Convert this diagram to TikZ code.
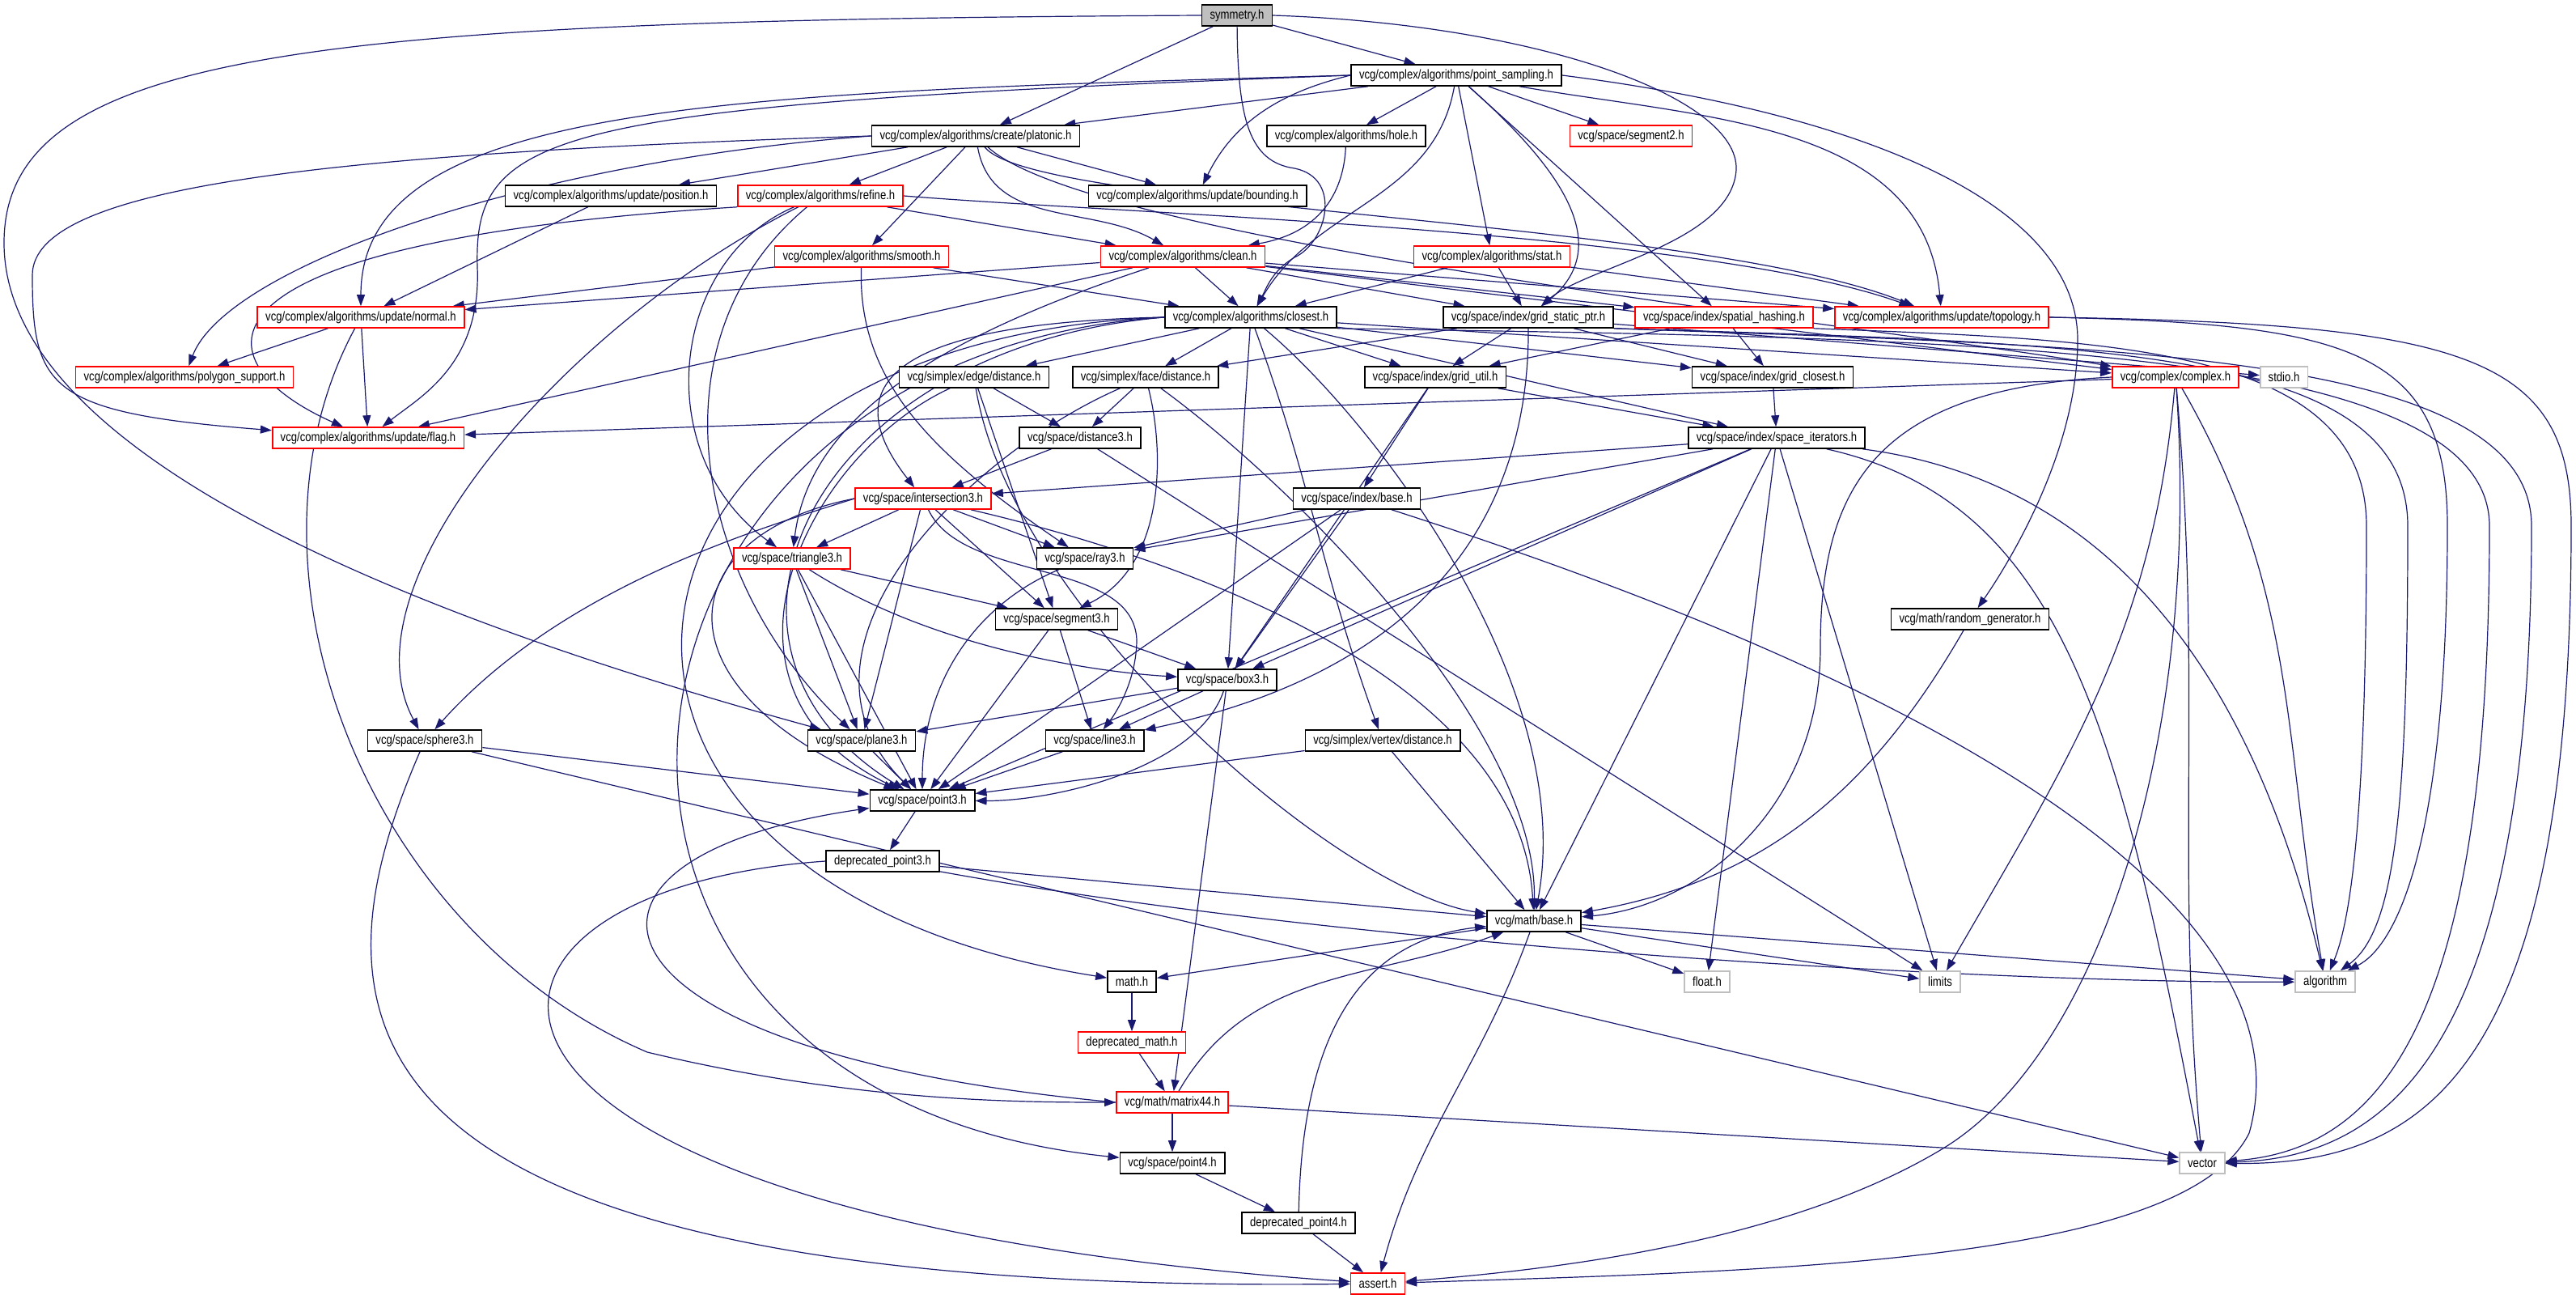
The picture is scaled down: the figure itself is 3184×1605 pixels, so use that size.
\documentclass[tikz,border=0pt]{standalone}
\usepackage{fontspec}
\setmainfont{Liberation Sans}[FakeStretch=0.82]
\usetikzlibrary{arrows.meta,backgrounds}
\definecolor{edgeblue}{RGB}{25,25,112}
\definecolor{sysgrey}{RGB}{191,191,191}

\begin{document}
\begin{tikzpicture}[x=1pt, y=-1pt,
    hdr/.style={draw=black, line width=1.6pt, fill=white, minimum height=26pt,
      inner xsep=10pt, inner ysep=0pt, font=\fontsize{16}{18}\selectfont},
    redhdr/.style={hdr, draw=red},
    syshdr/.style={hdr, draw=sysgrey},
    roothdr/.style={hdr, fill=sysgrey},
    inc/.style={draw=edgeblue, line width=1.2pt, -{Triangle[length=14pt, width=10pt]}}]
   \useasboundingbox (0,0) rectangle (3184,1605);
   \node[roothdr] (sym) at (1529,19) {symmetry.h};
   \node[hdr] (ps) at (1800,93) {vcg/complex/algorithms/point\_sampling.h};
   \node[hdr] (plat) at (1206,168) {vcg/complex/algorithms/create/platonic.h};
   \node[hdr] (hole) at (1664,168) {vcg/complex/algorithms/hole.h};
   \node[redhdr] (seg2) at (2016,168) {vcg/space/segment2.h};
   \node[hdr] (pos) at (755,242) {vcg/complex/algorithms/update/position.h};
   \node[redhdr] (ref) at (1014,242) {vcg/complex/algorithms/refine.h};
   \node[hdr] (bnd) at (1480,242) {vcg/complex/algorithms/update/bounding.h};
   \node[redhdr] (smo) at (1065,317) {vcg/complex/algorithms/smooth.h};
   \node[redhdr] (cln) at (1462,317) {vcg/complex/algorithms/clean.h};
   \node[redhdr] (stat) at (1844,317) {vcg/complex/algorithms/stat.h};
   \node[redhdr] (nrm) at (446,392) {vcg/complex/algorithms/update/normal.h};
   \node[hdr] (clo) at (1546,392) {vcg/complex/algorithms/closest.h};
   \node[hdr] (gsp) at (1889,392) {vcg/space/index/grid\_static\_ptr.h};
   \node[redhdr] (sph) at (2131,392) {vcg/space/index/spatial\_hashing.h};
   \node[redhdr] (top) at (2400,392) {vcg/complex/algorithms/update/topology.h};
   \node[redhdr] (poly) at (228,466) {vcg/complex/algorithms/polygon\_support.h};
   \node[hdr] (edist) at (1204,466) {vcg/simplex/edge/distance.h};
   \node[hdr] (fdist) at (1416,466) {vcg/simplex/face/distance.h};
   \node[hdr] (gutil) at (1774,466) {vcg/space/index/grid\_util.h};
   \node[hdr] (gclo) at (2191,466) {vcg/space/index/grid\_closest.h};
   \node[redhdr] (cpx) at (2689,466) {vcg/complex/complex.h};
   \node[syshdr] (stdio) at (2823,466) {stdio.h};
   \node[redhdr] (flag) at (455,541) {vcg/complex/algorithms/update/flag.h};
   \node[hdr] (d3) at (1335,541) {vcg/space/distance3.h};
   \node[hdr] (sit) at (2196,541) {vcg/space/index/space\_iterators.h};
   \node[redhdr] (int3) at (1141,616) {vcg/space/intersection3.h};
   \node[hdr] (ibase) at (1677,616) {vcg/space/index/base.h};
   \node[redhdr] (tri3) at (979,690) {vcg/space/triangle3.h};
   \node[hdr] (ray3) at (1341,690) {vcg/space/ray3.h};
   \node[hdr] (seg3) at (1306,765) {vcg/space/segment3.h};
   \node[hdr] (rnd) at (2435,765) {vcg/math/random\_generator.h};
   \node[hdr] (box3) at (1517,840) {vcg/space/box3.h};
   \node[hdr] (sph3) at (525,915) {vcg/space/sphere3.h};
   \node[hdr] (pl3) at (1065,915) {vcg/space/plane3.h};
   \node[hdr] (l3) at (1353,915) {vcg/space/line3.h};
   \node[hdr] (vdist) at (1709,915) {vcg/simplex/vertex/distance.h};
   \node[hdr] (p3) at (1140,989) {vcg/space/point3.h};
   \node[hdr] (dp3) at (1091,1064) {deprecated\_point3.h};
   \node[hdr] (mbase) at (1896,1138) {vcg/math/base.h};
   \node[hdr] (math) at (1399,1213) {math.h};
   \node[syshdr] (float) at (2110,1213) {float.h};
   \node[syshdr] (limits) at (2398,1213) {limits};
   \node[syshdr] (algo) at (2874,1213) {algorithm};
   \node[redhdr] (dmath) at (1399,1288) {deprecated\_math.h};
   \node[redhdr] (m44) at (1449,1362) {vcg/math/matrix44.h};
   \node[hdr] (p4) at (1449,1437) {vcg/space/point4.h};
   \node[syshdr] (vec) at (2722,1437) {vector};
   \node[hdr] (dp4) at (1605,1511) {deprecated\_point4.h};
   \node[redhdr] (assert) at (1703,1586) {assert.h};
   \begin{scope}[on background layer]
   \fill[white] (0,0) rectangle (3184,1605);
   \draw[inc] (sym) -- (plat);
   \draw[inc] (sym) -- (ps);
   \draw[inc] (sym.west) .. controls (400,25) and (5,60) .. (5,300) .. controls (5,560) and (500,760) .. (pl3);
   \draw[inc] (sym) .. controls (1530,150) and (1545,200) .. (1600,208) .. controls (1660,220) and (1640,300) .. (1600,318) .. controls (1572,335) and (1566,355) .. (clo);
   \draw[inc] (sym.east) .. controls (1900,30) and (2150,120) .. (2146,210) .. controls (2140,300) and (1960,330) .. (gsp);
   \draw[inc] (ps) -- (plat);
   \draw[inc] (ps) -- (hole);
   \draw[inc] (ps) -- (seg2);
   \draw[inc] (ps.west) .. controls (1600,110) and (1530,140) .. (bnd);
   \draw[inc] (ps) to[out=-100, in=60] (clo);
   \draw[inc] (ps) -- (stat);
   \draw[inc] (ps) .. controls (1920,200) and (2000,300) .. (gsp);
   \draw[inc] (ps) -- (sph);
   \draw[inc] (ps) to[out=-10, in=95] (top);
   \draw[inc] (ps.west) .. controls (900,115) and (446,125) .. (nrm);
   \draw[inc] (ps.west) .. controls (680,130) and (585,160) .. (590,330) .. controls (595,450) and (520,490) .. (flag);
   \draw[inc] (ps.east) .. controls (2300,140) and (2568,250) .. (2568,420) .. controls (2568,560) and (2480,700) .. (rnd);
   \draw[inc] (plat) -- (pos);
   \draw[inc] (plat) -- (ref);
   \draw[inc] (plat) -- (bnd);
   \draw[inc] (plat) -- (smo);
   \draw[inc] (plat) to[out=-80, in=150] (cln);
   \draw[inc] (plat.west) .. controls (400,190) and (40,230) .. (40,340) .. controls (40,480) and (60,510) .. (flag);
   \draw[inc] (plat.west) .. controls (650,200) and (280,330) .. (poly);
   \draw[inc] (plat) .. controls (1280,260) and (2100,270) .. (top);
   \draw[inc] (plat) .. controls (1350,300) and (2300,400) .. (cpx);
   \draw[inc] (pos) -- (nrm);
   \draw[inc] (ref) -- (cln);
   \draw[inc] (ref.south west) .. controls (200,300) and (250,450) .. (flag);
   \draw[inc] (ref) .. controls (830,320) and (800,560) .. (tri3);
   \draw[inc] (ref) .. controls (700,400) and (420,720) .. (sph3);
   \draw[inc] (ref) .. controls (800,420) and (860,720) .. (pl3);
   \draw[inc] (ref.east) .. controls (1400,265) and (2100,285) .. (top);
   \draw[inc] (smo) -- (nrm);
   \draw[inc] (smo) -- (clo);
   \draw[inc] (smo) .. controls (1060,470) and (1150,560) .. (ray3);
   \draw[inc] (hole) .. controls (1660,250) and (1620,290) .. (cln);
   \draw[inc] (cln) -- (clo);
   \draw[inc] (cln) -- (gsp);
   \draw[inc] (cln) -- (sph);
   \draw[inc] (cln) -- (top);
   \draw[inc] (cln) -- (nrm);
   \draw[inc] (cln) -- (flag);
   \draw[inc] (cln) .. controls (1150,420) and (1000,520) .. (tri3);
   \draw[inc] (cln) -- (cpx);
   \draw[inc] (stat) -- (clo);
   \draw[inc] (stat) -- (gsp);
   \draw[inc] (stat) -- (top);
   \draw[inc] (nrm) -- (poly);
   \draw[inc] (nrm) -- (flag);
   \draw[inc] (nrm) .. controls (280,700) and (450,1150) .. (800,1300) .. controls (1050,1360) and (1250,1362) .. (m44);
   \draw[inc] (clo) -- (edist);
   \draw[inc] (clo) -- (fdist);
   \draw[inc] (clo) -- (box3);
   \draw[inc] (clo) -- (gutil);
   \draw[inc] (clo) -- (gclo);
   \draw[inc] (clo) -- (sit);
   \draw[inc] (clo) to[out=-70, in=110] (vdist);
   \draw[inc] (clo.west) .. controls (1050,400) and (1050,500) .. (int3);
   \draw[inc] (clo.west) .. controls (1000,430) and (830,800) .. (p3);
   \draw[inc] (clo) .. controls (1700,520) and (1950,850) .. (mbase);
   \draw[inc] (clo.west) .. controls (700,420) and (620,1090) .. (math);
   \draw[inc] (clo.west) .. controls (700,440) and (600,1350) .. (p4);
   \draw[inc] (clo) -- (cpx);
   \draw[inc] (clo.south east) .. controls (2400,418) and (3077,420) .. (3077,650) .. controls (3077,1250) and (2950,1420) .. (vec);
   \draw[inc] (gsp) -- (gutil);
   \draw[inc] (gsp) -- (gclo);
   \draw[inc] (gsp) -- (fdist);
   \draw[inc] (gsp) -- (stdio);
   \draw[inc] (gsp) .. controls (1890,600) and (1800,820) .. (l3);
   \draw[inc] (gsp.south east) .. controls (2600,424) and (2976,430) .. (2976,650) .. controls (2976,1000) and (2960,1150) .. (algo);
   \draw[inc] (gsp.south east) .. controls (2600,428) and (3129,432) .. (3129,650) .. controls (3129,1300) and (2950,1430) .. (vec);
   \draw[inc] (sph) -- (gutil);
   \draw[inc] (sph) -- (gclo);
   \draw[inc] (sph.south east) .. controls (2600,420) and (2925,425) .. (2925,650) .. controls (2925,1050) and (2900,1150) .. (algo);
   \draw[inc] (top.east) .. controls (2900,400) and (3025,430) .. (3025,650) .. controls (3025,1050) and (2960,1170) .. (algo);
   \draw[inc] (top.east) .. controls (3050,400) and (3178,440) .. (3178,650) .. controls (3178,1320) and (3000,1440) .. (vec);
   \draw[inc] (gutil) -- (ibase);
   \draw[inc] (gutil) -- (sit);
   \draw[inc] (gutil) -- (box3);
   \draw[inc] (gclo) -- (sit);
   \draw[inc] (edist) -- (d3);
   \draw[inc] (edist) -- (seg3);
   \draw[inc] (edist) .. controls (1000,560) and (850,850) .. (p3);
   \draw[inc] (edist) .. controls (1250,750) and (1650,1100) .. (mbase);
   \draw[inc] (fdist) -- (d3);
   \draw[inc] (fdist) .. controls (1440,560) and (1440,700) .. (seg3);
   \draw[inc] (fdist) .. controls (1200,560) and (950,800) .. (p3);
   \draw[inc] (fdist) .. controls (1600,600) and (1900,900) .. (mbase);
   \draw[inc] (d3) -- (int3);
   \draw[inc] (d3) -- (limits);
   \draw[inc] (sit) -- (int3);
   \draw[inc] (sit) -- (ray3);
   \draw[inc] (sit) -- (box3);
   \draw[inc] (sit) -- (p3);
   \draw[inc] (sit) -- (mbase);
   \draw[inc] (sit) -- (float);
   \draw[inc] (sit) -- (limits);
   \draw[inc] (sit) .. controls (2650,600) and (2800,900) .. (algo);
   \draw[inc] (sit) .. controls (2550,620) and (2620,900) .. (vec);
   \draw[inc] (ibase) -- (ray3);
   \draw[inc] (ibase) -- (box3);
   \draw[inc] (ibase) -- (p3);
   \draw[inc] (ibase) .. controls (2500,880) and (2850,1150) .. (2780,1400) .. controls (2700,1560) and (2200,1570) .. (assert);
   \draw[inc] (int3) -- (tri3);
   \draw[inc] (int3) -- (ray3);
   \draw[inc] (int3) -- (seg3);
   \draw[inc] (int3) -- (pl3);
   \draw[inc] (int3) .. controls (1190,720) and (1400,690) .. (1405,790) .. controls (1405,840) and (1380,880) .. (l3);
   \draw[inc] (int3.west) .. controls (950,650) and (700,720) .. (sph3);
   \draw[inc] (int3.west) .. controls (830,660) and (800,850) .. (p3);
   \draw[inc] (int3) .. controls (1500,700) and (1880,850) .. (mbase);
   \draw[inc] (tri3) -- (pl3);
   \draw[inc] (tri3) -- (seg3);
   \draw[inc] (tri3) -- (p3);
   \draw[inc] (tri3) .. controls (1150,800) and (1350,830) .. (box3);
   \draw[inc] (ray3) .. controls (1200,750) and (1140,850) .. (p3);
   \draw[inc] (seg3) -- (box3);
   \draw[inc] (seg3) -- (l3);
   \draw[inc] (seg3) -- (p3);
   \draw[inc] (box3) -- (pl3);
   \draw[inc] (box3) -- (l3);
   \draw[inc] (box3) .. controls (1480,950) and (1300,990) .. (p3);
   \draw[inc] (box3) -- (m44);
   \draw[inc] (pl3) -- (p3);
   \draw[inc] (l3) -- (p3);
   \draw[inc] (vdist) -- (p3);
   \draw[inc] (vdist) -- (mbase);
   \draw[inc] (sph3) -- (p3);
   \draw[inc] (sph3) -- (vec);
   \draw[inc] (sph3) .. controls (380,1250) and (380,1600) .. (assert);
   \draw[inc] (p3) -- (dp3);
   \draw[inc] (dp3) -- (mbase);
   \draw[inc] (dp3) .. controls (1700,1175) and (2500,1215) .. (algo);
   \draw[inc] (dp3.west) .. controls (500,1100) and (470,1500) .. (assert);
   \draw[inc] (mbase) -- (math);
   \draw[inc] (mbase) -- (float);
   \draw[inc] (mbase) -- (limits);
   \draw[inc] (mbase) -- (algo);
   \draw[inc] (mbase) to[out=-110, in=75] (assert);
   \draw[inc] (math) -- (dmath);
   \draw[inc] (dmath) -- (m44);
   \draw[inc] (m44) -- (p4);
   \draw[inc] (m44) to[out=60, in=200] (mbase);
   \draw[inc] (m44) -- (vec);
   \draw[inc] (m44.west) .. controls (700,1300) and (650,1060) .. (p3);
   \draw[inc] (p4) -- (dp4);
   \draw[inc] (dp4) .. controls (1610,1250) and (1700,1160) .. (mbase);
   \draw[inc] (dp4) -- (assert);
   \draw[inc] (rnd) to[out=-120, in=10] (mbase);
   \draw[inc] (cpx) -- (flag);
   \draw[inc] (cpx.west) .. controls (2320,480) and (2250,600) .. (2250,800) .. controls (2250,1000) and (2100,1120) .. (mbase);
   \draw[inc] (cpx) to[out=-95, in=60] (limits);
   \draw[inc] (cpx) .. controls (2720,900) and (2600,1300) .. (2400,1420) .. controls (2200,1540) and (1900,1570) .. (assert);
   \draw[inc] (cpx) to[out=-60, in=100] (algo);
   \draw[inc] (cpx) to[out=-85, in=95] (vec);
   \end{scope}
 \end{tikzpicture}
\end{document}
